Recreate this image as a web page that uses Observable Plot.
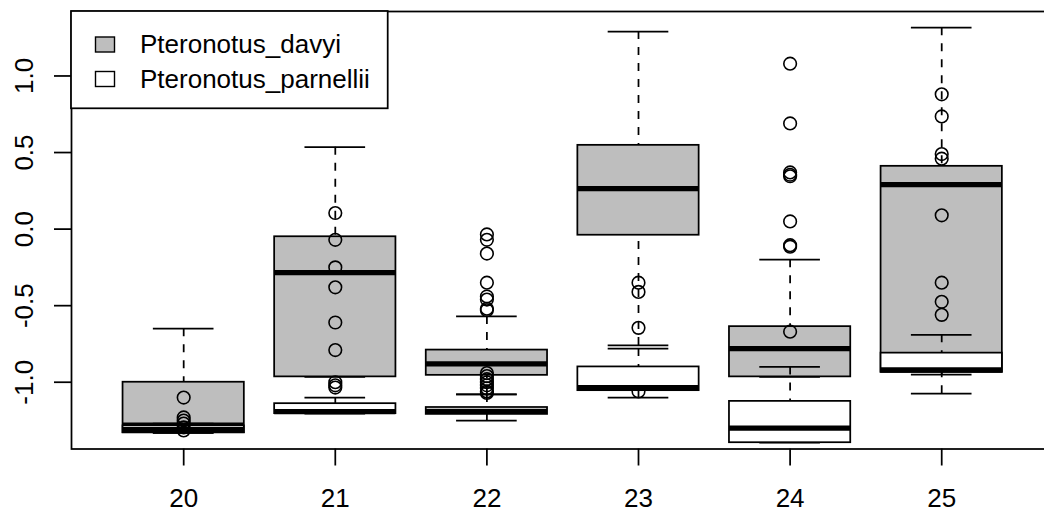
<!DOCTYPE html>
<html><head><meta charset="utf-8">
<script src="https://cdn.jsdelivr.net/npm/d3@7"></script>
<script src="https://cdn.jsdelivr.net/npm/@observablehq/plot@0.6"></script>
<style>html,body{margin:0;padding:0;background:#fff;overflow:hidden}</style>
</head><body><div id="chart"></div>
<script>
const groups = ["20","21","22","23","24","25"];
const seriesNames = ["Pteronotus_davyi","Pteronotus_parnellii"];
const seriesFill = ["#BEBEBE","#FFFFFF"];
// box statistics per group: [lower whisker, Q1, median, Q3, upper whisker]
const davyiStats = [
  [-1.33, -1.33, -1.28, -1.00, -0.65],
  [-0.965, -0.965, -0.285, -0.05, 0.535],
  [-1.08, -0.955, -0.88, -0.79, -0.57],
  [-0.76, -0.04, 0.265, 0.547, 1.29],
  [-0.965, -0.965, -0.78, -0.637, -0.20],
  [-0.95, -0.935, 0.29, 0.41, 1.315]
];
const parnelliiStats = [
  [-1.33, -1.33, -1.31, -1.285, -1.27],
  [-1.205, -1.205, -1.192, -1.14, -1.10],
  [-1.25, -1.21, -1.19, -1.165, -1.08],
  [-1.10, -1.055, -1.035, -0.90, -0.78],
  [-1.395, -1.395, -1.30, -1.125, -0.90],
  [-1.075, -0.935, -0.92, -0.81, -0.69]
];
const davyiOut = [
  [],
  [],
  [-0.035, -0.07, -0.16, -0.35, -0.44, -0.46, -0.52, -0.53],
  [-1.06],
  [1.08, 0.69, 0.37, 0.355, 0.345, 0.05, -0.105, -0.115],
  []
];
const parnelliiOut = [
  [-1.10, -1.23, -1.25, -1.27, -1.295, -1.315],
  [0.105, -0.07, -0.25, -0.38, -0.61, -0.79, -1.00, -1.02, -1.035],
  [-0.94, -0.96, -0.98, -1.00, -1.02, -1.04, -1.06, -1.07],
  [-0.35, -0.41, -0.645],
  [-0.67],
  [0.88, 0.736, 0.49, 0.46, 0.09, -0.35, -0.475, -0.56]
];
const yTicks = [-1, -0.5, 0, 0.5, 1];
const yTickLabels = ["-1.0", "-0.5", "0.0", "0.5", "1.0"];

function toRows(stats) {
  return stats.map((s, i) => ({x: i + 1, lo: s[0], q1: s[1], med: s[2], q3: s[3], hi: s[4]}));
}
function toOuts(outs) {
  return outs.flatMap((arr, i) => arr.map(v => ({x: i + 1, y: v})));
}
const LW = 1.75;
function seriesMarks(stats, outs, fill) {
  const rows = toRows(stats), pts = toOuts(outs);
  const dash = "8,8";
  return [
    Plot.ruleX(rows, {x: "x", y1: "hi", y2: "q3", stroke: "black", strokeWidth: LW, strokeDasharray: dash}),
    Plot.ruleX(rows, {x: "x", y1: "lo", y2: "q1", stroke: "black", strokeWidth: LW, strokeDasharray: dash}),
    Plot.ruleY(rows, {y: "hi", x1: d => d.x - 0.2, x2: d => d.x + 0.2, stroke: "black", strokeWidth: LW}),
    Plot.ruleY(rows, {y: "lo", x1: d => d.x - 0.2, x2: d => d.x + 0.2, stroke: "black", strokeWidth: LW}),
    Plot.rect(rows, {x1: d => d.x - 0.4, x2: d => d.x + 0.4, y1: "q1", y2: "q3", fill, stroke: "black", strokeWidth: LW}),
    Plot.ruleY(rows, {y: "med", x1: d => d.x - 0.4, x2: d => d.x + 0.4, stroke: "black", strokeWidth: 5.25}),
    Plot.dot(pts, {x: "x", y: "y", r: 6.3, stroke: "black", strokeWidth: 1.6, fill: "none"})
  ];
}

const plot = Plot.plot({
  width: 1044, height: 515,
  marginLeft: 71, marginTop: 11, marginBottom: 66.5, marginRight: -9.4,
  x: {type: "linear", domain: [0.26, 6.74], range: [71, 1053.4]},
  y: {domain: [-1.436, 1.421], range: [448.5, 11]},
  style: {fontFamily: "'Liberation Sans', Arial, sans-serif", fontSize: "26px", color: "black", background: "white"},
  marks: [
    ...seriesMarks(davyiStats, davyiOut, seriesFill[0]),
    ...seriesMarks(parnelliiStats, parnelliiOut, seriesFill[1]),
    Plot.frame({stroke: "black", strokeWidth: LW}),
    Plot.axisX({ticks: [1, 2, 3, 4, 5, 6], tickFormat: d => groups[d - 1], tickSize: 17, tickPadding: 23, fontSize: 26, label: null, strokeWidth: LW}),
    Plot.axisY({ticks: yTicks, tickFormat: () => "", tickSize: 17, label: null, strokeWidth: LW}),
    Plot.text(yTicks, {y: d => d, text: (d, i) => yTickLabels[i], frameAnchor: "left", dx: -47, rotate: -90, textAnchor: "middle", lineAnchor: "middle", fontSize: 26, fill: "black"})
  ]
});
document.getElementById("chart").appendChild(plot);

// legend (top-left, inside plot region)
const g = d3.select(plot).append("g")
  .attr("font-size", 26)
  .attr("font-family", "'Liberation Sans', Arial, sans-serif")
  .attr("text-anchor", "start");
g.append("rect").attr("x", 71).attr("y", 11).attr("width", 316.7).attr("height", 97.3)
  .attr("fill", "white").attr("stroke", "black").attr("stroke-width", LW);
seriesNames.forEach((name, i) => {
  g.append("rect").attr("x", 95.5).attr("y", 37 + i * 34.5).attr("width", 19).attr("height", 15)
    .attr("fill", seriesFill[i]).attr("stroke", "black").attr("stroke-width", 1.4);
  g.append("text").attr("x", 140).attr("y", 53 + i * 35).attr("fill", "black")
    .attr("text-anchor", "start").text(name);
});
</script>
</body></html>
